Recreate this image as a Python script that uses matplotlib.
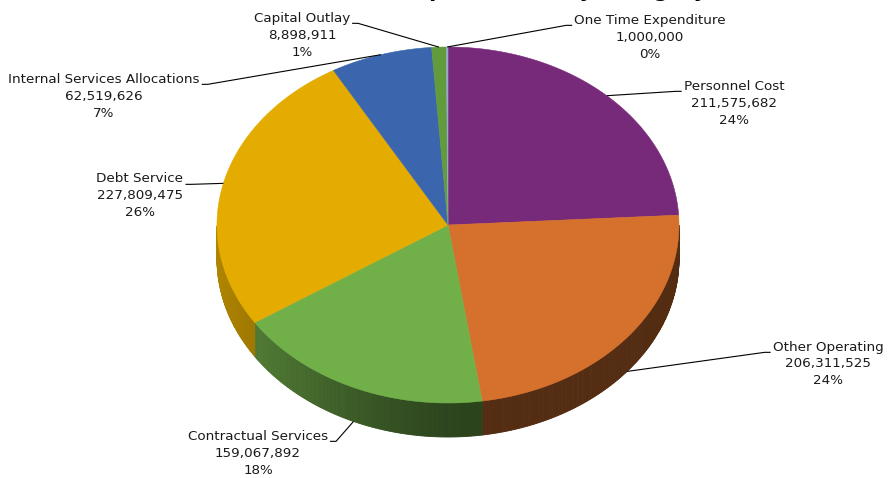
import numpy as np
import matplotlib
matplotlib.use("Agg")
import matplotlib.pyplot as plt
from matplotlib import font_manager
from matplotlib.colors import to_rgb

# expenditure categories, clockwise from 12 o'clock
categories = ["Personnel Cost", "Other Operating", "Contractual Services",
              "Debt Service", "Internal Services Allocations",
              "Capital Outlay", "One Time Expenditure"]
amounts = [211575682, 206311525, 159067892, 227809475, 62519626,
           8898911, 1000000]
colors = ["#782a7a", "#d5702d", "#71af49", "#e4ac00", "#3b66ae",
          "#629b3c", "#98aacc"]

# where each label block sits (pixels, centre of the 3-line block)
label_xy = [(734, 103), (828, 364), (258, 453), (140, 196), (104, 96),
            (302, 35), (650, 37)]

W, H = 891, 478
cx, cy, rx, ry, depth = 448, 225, 231, 178, 34

# narrow face if there is one, otherwise a smaller DejaVu
installed = {f.name for f in font_manager.fontManager.ttflist}
if "Liberation Sans Narrow" in installed:
    lab_family, lab_size = "Liberation Sans Narrow", 10.5
else:
    lab_family, lab_size = "DejaVu Sans", 9.7

fig = plt.figure(figsize=(W / 100, H / 100), dpi=100)
ax = fig.add_axes([0, 0, 1, 1])
ax.set_xlim(0, W)
ax.set_ylim(H, 0)
ax.axis("off")

vals = np.array(amounts, dtype=float)
frac = vals / vals.sum()
ends = 90 - np.cumsum(frac) * 360
starts = ends + frac * 360


def pt(phi, dz=0):
    a = np.radians(phi)
    return cx + rx * np.cos(a), cy - ry * np.sin(a) + dz


def shade(phi):
    # side wall lighter on the left, dark toward front/right
    c = -np.cos(np.radians(phi))
    return 0.39 + 0.38 * max(c, 0.0) ** 1.2


# side walls (front half only)
for s, e, col in zip(starts, ends, colors):
    base = np.array(to_rgb(col))
    a0, a1 = e % 360, e % 360 + (s - e)
    grid = np.arange(a0, a1 + 0.5, 0.5)
    for p, q in zip(grid[:-1], np.minimum(grid[1:], a1)):
        m = (p + q) / 2 % 360
        if not (180 <= m <= 360):
            continue
        x1, y1 = pt(p)
        x2, y2 = pt(q)
        c = np.clip(base * shade(m), 0, 1)
        ax.fill([x1, x2, x2, x1], [y1, y2, y2 + depth, y1 + depth],
                color=c, lw=0.6, ec=c)

# top faces
for s, e, col in zip(starts, ends, colors):
    phis = np.linspace(s, e, max(int((s - e) * 2), 2))
    xs, ys = pt(phis)
    ax.fill(np.r_[cx, xs], np.r_[cy, ys], color=col, lw=0.4, ec=col)

# data labels with leader lines
fp = dict(family=lab_family, fontsize=lab_size, color="#1a1a1a")
fig.canvas.draw()
rend = fig.canvas.get_renderer()
for name, v, f, s, e, (lx, ly) in zip(categories, amounts, frac, starts,
                                       ends, label_xy):
    txt = f"{name}\n{v:,.0f}\n{round(f * 100):.0f}%"
    t = ax.text(lx, ly, txt, ha="center", va="center", ma="center",
                linespacing=1.4, **fp)
    bb = t.get_window_extent(rend)
    t1 = ax.text(lx, ly, name, ha="center", va="center", **fp)
    w1 = t1.get_window_extent(rend).width
    t1.remove()
    top = H - bb.y1
    y0 = top + bb.height / 6 + 4
    mid = (s + e) / 2
    axp, ayp = pt(mid, depth if np.sin(np.radians(mid)) < 0 else 0)
    if axp > lx:
        x0, x1 = lx + w1 / 2 + 2, lx + w1 / 2 + 8
    else:
        x0, x1 = lx - w1 / 2 - 2, lx - w1 / 2 - 8
    ax.plot([x0, x1, axp], [y0, y0, ayp], color="black", lw=0.8,
            solid_capstyle="butt")

fig.text(237 / W, 1 + 3.5 / H, "General Fund Expenditures by Category",
         fontsize=15, fontweight="bold", ha="left", va="baseline")

fig.savefig("out.png", dpi=100)
